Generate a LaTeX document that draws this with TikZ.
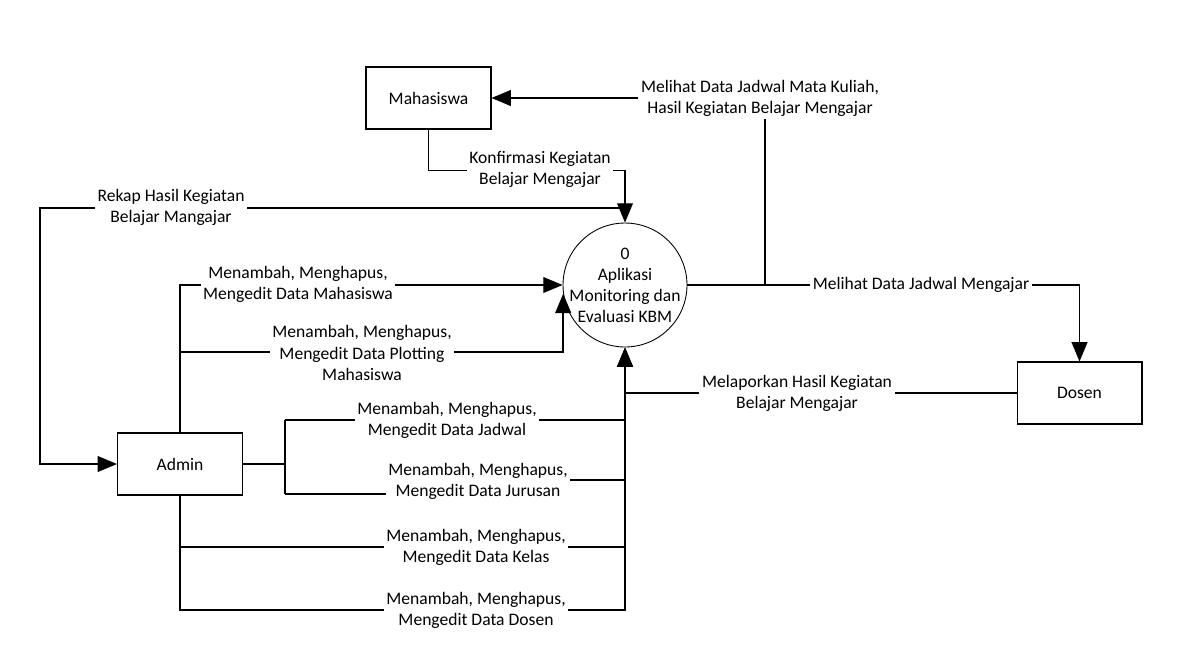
\documentclass[tikz,border=0pt]{standalone}
\usepackage{fontspec}
\setmainfont{Carlito}
\usetikzlibrary{arrows.meta}

\begin{document}
\begin{tikzpicture}[x=0.02cm, y=-0.02cm,
    font=\fontsize{10}{12}\selectfont,
    entity/.style={draw, line width=0.6pt, minimum width=2.5cm, minimum height=1.24cm},
    process/.style={draw, circle, line width=0.5pt, minimum size=2.48cm, inner sep=-2pt, align=center},
    flow/.style={line width=0.8pt, -{Triangle[length=11pt, width=9pt]}},
    link/.style={line width=0.8pt},
    lbl/.style={fill=white, inner sep=1.5pt, align=center}]
    \useasboundingbox (0,0) rectangle (1192,660);

    % Entities and process
    \node[entity] (mhs) at (428.5,98) {Mahasiswa};
    \node[entity] (adm) at (180,464) {Admin};
    \node[entity] (dsn) at (1079.5,393) {Dosen};
    \node[process] (proc) at (625,285) {0\\Aplikasi\\Monitoring dan\\Evaluasi KBM};

    % Process to Mahasiswa and Dosen
    \draw[flow] (proc.east) -- (765,285) -- (765,98) -- (mhs.east);
    \draw[flow] (proc.east) -| (dsn.north);
    \draw[flow] (dsn.west) -| (proc.south);

    % Mahasiswa to process
    \draw[flow] (mhs.south) -- ++(0,41) -| (proc.north);

    % Rekap to Admin
    \coordinate (rekap) at (625,208);
    \draw[flow] (rekap) -- (40,208) |- (adm.west);

    % Admin to process
    \draw[flow] (adm.north) |- (proc.west);
    \draw[flow] (180,352) -| (proc.188);
    \draw[link] (adm.east) -- (285,464);
    \draw[link] (285,420) -- (285,494);
    \draw[link] (285,420) -- (625,420);
    \draw[link] (285,494) -- (478,494) -- (478,480) -- (625,480);
    \draw[link] (180,547) -- (625,547);
    \draw[flow] (adm.south) |- (625,610) -- (proc.south);

    % Labels
    \node[lbl] (l1) at (760,98) {Melihat Data Jadwal Mata Kuliah,\\Hasil Kegiatan Belajar Mengajar};
    \node[lbl] (l2) at (921,285) {Melihat Data Jadwal Mengajar};
    \node[lbl] (l3) at (797,393) {Melaporkan Hasil Kegiatan\\Belajar Mengajar};
    \node[lbl] (l4) at (540,169) {Konfirmasi Kegiatan\\Belajar Mengajar};
    \node[lbl] (l5) at (171,207) {Rekap Hasil Kegiatan\\Belajar Mangajar};
    \node[lbl] (l6) at (298,284) {Menambah, Menghapus,\\Mengedit Data Mahasiswa};
    \node[lbl] (l7) at (362,353) {Menambah, Menghapus,\\Mengedit Data Plotting\\Mahasiswa};
    \node[lbl] (l8) at (447,420) {Menambah, Menghapus,\\Mengedit Data Jadwal};
    \node[lbl] (l9) at (478,481) {Menambah, Menghapus,\\Mengedit Data Jurusan};
    \node[lbl] (l10) at (476,547) {Menambah, Menghapus,\\Mengedit Data Kelas};
    \node[lbl] (l11) at (476,610) {Menambah, Menghapus,\\Mengedit Data Dosen};
\end{tikzpicture}
\end{document}
